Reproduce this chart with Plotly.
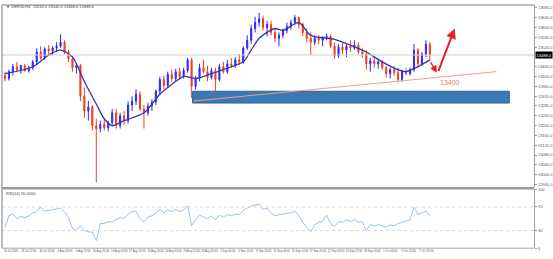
import plotly.graph_objects as go

# ---------------- data ----------------
symbol = "GER30,H4"

open_ = [13404,13392,13420,13440,13428,13444,13424,13436,13460,13500,
         13476,13512,13504,13516,13524,13540,13500,13472,13436,13444,
         13320,13260,13276,13200,13188,13204,13192,13212,13252,13200,
         13240,13220,13284,13300,13328,13268,13252,13280,13296,13340,
         13388,13364,13408,13392,13420,13400,13424,13468,13360,13392,
         13436,13420,13396,13424,13388,13440,13420,13452,13444,13468,
         13460,13516,13548,13596,13620,13636,13600,13612,13580,13556,
         13568,13588,13604,13620,13640,13612,13580,13556,13540,13556,
         13548,13560,13564,13524,13484,13520,13508,13524,13516,13528,
         13500,13492,13452,13464,13452,13460,13436,13412,13428,13416,
         13388,13420,13412,13428,13508,13452,13492,13532]
high = [13420,13428,13452,13460,13448,13452,13444,13468,13516,13524,
        13520,13528,13524,13540,13572,13548,13508,13480,13452,13452,
        13356,13300,13284,13228,13220,13228,13220,13268,13268,13252,
        13260,13300,13320,13348,13340,13284,13292,13308,13348,13400,
        13404,13420,13428,13432,13436,13436,13476,13476,13404,13452,
        13468,13444,13436,13436,13452,13460,13468,13476,13480,13492,
        13524,13568,13612,13644,13660,13648,13628,13628,13596,13580,
        13596,13620,13632,13652,13644,13620,13596,13580,13568,13568,
        13564,13576,13572,13540,13532,13540,13532,13548,13548,13540,
        13516,13508,13476,13480,13468,13468,13444,13436,13444,13436,
        13428,13436,13436,13532,13516,13500,13548,13540]
low = [13380,13384,13404,13420,13412,13420,13416,13428,13448,13468,
       13468,13492,13488,13500,13516,13492,13460,13420,13412,13300,
       13232,13220,13180,12968,13172,13180,13176,13196,13188,13188,
       13204,13208,13260,13284,13260,13188,13240,13260,13284,13328,
       13348,13356,13380,13380,13388,13392,13416,13312,13348,13380,
       13412,13380,13388,13340,13380,13412,13412,13436,13436,13448,
       13452,13508,13532,13580,13604,13588,13564,13568,13540,13524,
       13556,13576,13592,13612,13596,13564,13540,13488,13528,13532,
       13524,13548,13516,13472,13476,13492,13480,13500,13508,13492,
       13476,13428,13420,13436,13432,13428,13396,13392,13404,13380,
       13380,13404,13404,13420,13436,13444,13480,13468]
close = [13392,13420,13440,13428,13444,13424,13436,13460,13500,13476,
         13512,13504,13516,13524,13540,13500,13472,13436,13444,13320,
         13260,13276,13200,13188,13204,13192,13212,13252,13200,13240,
         13220,13284,13300,13328,13268,13252,13280,13296,13340,13388,
         13364,13408,13392,13420,13400,13424,13468,13360,13392,13436,
         13420,13396,13424,13388,13440,13420,13452,13444,13468,13460,
         13516,13548,13596,13620,13636,13600,13612,13580,13556,13568,
         13588,13604,13620,13640,13612,13580,13556,13540,13556,13548,
         13560,13564,13524,13484,13520,13508,13524,13516,13528,13500,
         13492,13452,13464,13452,13460,13436,13412,13428,13416,13388,
         13420,13412,13428,13508,13452,13492,13532,13488]

# moving average, read at selected bars
ma_idx = [0,7,11,14,17,18,20,23,25,27,30,35,39,42,45,48,52,57,60,62,
          64,66,68,70,74,77,83,87,91,95,99,101,104,107]
ma_val = [13412,13440,13488,13508,13480,13452,13380,13288,13228,13200,
          13220,13252,13328,13368,13400,13392,13412,13440,13460,13508,
          13556,13580,13596,13588,13620,13568,13552,13528,13500,13460,
          13428,13420,13440,13468]

rsi = [35,55,58,50,54,52,55,60,62,70,
       63,64,66,67,68,62,52,33,30,38,
       30,28,27,13,42,42,45,45,48,52,
       50,58,62,63,50,45,53,55,60,66,
       60,65,62,66,62,65,72,38,48,56,
       53,50,55,48,56,53,57,55,58,57,
       64,68,72,73,75,66,68,60,55,57,
       58,60,60,63,55,44,35,28,40,44,
       46,56,42,37,45,44,48,45,49,44,
       45,30,40,38,40,38,36,40,38,42,
       44,46,48,70,57,60,63,55]

price_ticks = [12960,13000,13040,13080,13120,13160,13200,13240,13280,13320,
               13360,13400,13440,13520,13560,13600,13640,13680]
rsi_ticks = [0,30,70,100]
date_tick_idx = [1.5,6,10.6,15.1,19.7,24.2,28.8,33.3,37.9,42.4,47,51.5,
                 56.1,60.6,65.2,69.7,74.3,78.8,83.4,87.9,92.5,97,101.6,106.1]
date_labels = ["24 Jul 2020","28 Jul 12:00","30 Jul 20:00","4 Aug 04:00","6 Aug 12:00",
               "10 Aug 20:00","13 Aug 04:00","17 Aug 12:00","19 Aug 20:00","24 Aug 04:00",
               "26 Aug 12:00","28 Aug 20:00","2 Sep 04:00","4 Sep 12:00","8 Sep 20:00",
               "11 Sep 04:00","15 Sep 12:00","17 Sep 20:00","22 Sep 04:00","24 Sep 12:00",
               "28 Sep 20:00","1 Oct 04:00","5 Oct 12:00","7 Oct 20:00"]

# analyst drawings (bar index, price)
zone_bars = [47.25, 127]
zone_prices = [13292, 13340]
trend_bars = [47.5, 123.75]
trend_prices = [13300, 13420]
down_arrow = [(107, 13464), (108.75, 13416)]
up_arrow = [(109, 13416), (113.25, 13596)]
support_text = "13400"
support_text_pos = (112.1, 13376)

# ---------------- layout helpers ----------------
W, H = 553, 259
def px(x):
    return x / W
def py(y):
    return 1 - y / H

UP = "#2c2cf5"
DN = "#f0401e"
RED = "#e5202a"
n = len(close)
bars = list(range(n))

fig = go.Figure()
fig.add_trace(go.Candlestick(
    x=bars, open=open_, high=high, low=low, close=close,
    increasing=dict(line=dict(color=UP, width=1), fillcolor=UP),
    decreasing=dict(line=dict(color=DN, width=1), fillcolor=DN),
    whiskerwidth=0, showlegend=False, hoverinfo="skip",
    xaxis="x", yaxis="y"))
fig.add_trace(go.Scatter(
    x=ma_idx, y=ma_val, mode="lines",
    line=dict(color="#3434b8", width=1.3, shape="spline", smoothing=0.8),
    showlegend=False, hoverinfo="skip", xaxis="x", yaxis="y"))
fig.add_trace(go.Scatter(
    x=bars, y=rsi, mode="lines",
    line=dict(color="#92b9ee", width=0.9),
    showlegend=False, hoverinfo="skip", xaxis="x2", yaxis="y2"))

xr = [-0.75, 133.25]
xdom = [px(2), px(538)]
axis_font = dict(family="Liberation Sans, Arial", size=4, color="#555555")

fig.update_layout(
    width=W, height=H, margin=dict(l=0, r=0, t=0, b=0),
    paper_bgcolor="white", plot_bgcolor="white",
    showlegend=False, boxgap=0.6,
    xaxis=dict(domain=xdom, range=xr, anchor="y", showticklabels=False,
               showgrid=False, zeroline=False, rangeslider=dict(visible=False),
               showline=False, ticks=""),
    yaxis=dict(domain=[py(188), py(2)], range=[12948, 13692], anchor="x",
               side="right", tickvals=price_ticks,
               ticktext=[f"{v:.1f}" for v in price_ticks],
               tickfont=axis_font, showgrid=False, zeroline=False,
               showline=True, linecolor="#9a9a9a", linewidth=1,
               ticks="outside", ticklen=2, tickcolor="#9a9a9a"),
    xaxis2=dict(domain=xdom, range=xr, anchor="y2", tickvals=date_tick_idx,
                ticktext=date_labels, tickangle=0,
                tickfont=dict(family="Liberation Sans, Arial", size=2.8, color="#555555"),
                showgrid=False, zeroline=False, showline=False, ticks=""),
    yaxis2=dict(domain=[py(250), py(190)], range=[0, 100], anchor="x2",
                side="right", tickvals=rsi_ticks,
                ticktext=[str(v) for v in rsi_ticks],
                tickfont=axis_font, showgrid=False, zeroline=False,
                showline=True, linecolor="#9a9a9a", linewidth=1,
                ticks="outside", ticklen=2, tickcolor="#9a9a9a"),
)

shapes = []
# RSI 30/70 levels
for lvl in (30, 70):
    shapes.append(dict(type="line", xref="paper", yref="y2", x0=xdom[0], x1=xdom[1],
                       y0=lvl, y1=lvl, line=dict(color="#d8d8d8", width=1, dash="dot")))
# current price line
shapes.append(dict(type="line", xref="paper", yref="y", x0=xdom[0], x1=xdom[1],
                   y0=close[-1], y1=close[-1], line=dict(color="#cfcfcf", width=1)))
# support zone
shapes.append(dict(type="rect", xref="x", yref="y", x0=zone_bars[0], x1=zone_bars[1],
                   y0=zone_prices[0], y1=zone_prices[1],
                   fillcolor="#3c79b2", line=dict(color="#2f6498", width=1)))
# trend line
shapes.append(dict(type="line", xref="x", yref="y", x0=trend_bars[0], x1=trend_bars[1],
                   y0=trend_prices[0], y1=trend_prices[1],
                   line=dict(color="#f29a92", width=1)))
# frame
frame = "#a8a8a8"
shapes.append(dict(type="line", xref="paper", yref="paper", x0=px(2), x1=px(538),
                   y0=py(2), y1=py(2), line=dict(color=frame, width=1.5)))
shapes.append(dict(type="line", xref="paper", yref="paper", x0=px(2), x1=px(2),
                   y0=py(2), y1=py(250), line=dict(color=frame, width=1.5)))
shapes.append(dict(type="line", xref="paper", yref="paper", x0=px(2), x1=px(538),
                   y0=py(189), y1=py(189), line=dict(color="#9a9a9a", width=2.5)))
shapes.append(dict(type="line", xref="paper", yref="paper", x0=px(2), x1=px(538),
                   y0=py(250), y1=py(250), line=dict(color=frame, width=1)))
fig.update_layout(shapes=shapes)

small = dict(family="Liberation Sans, Arial", size=4, color="#444444")
anns = [
    dict(xref="paper", yref="paper", x=px(4), y=py(4), xanchor="left", yanchor="middle",
         text=f"▼ {symbol}  {open_[-1]:.1f} {high[-1]:.1f} {low[-1]:.1f} {close[-1]:.1f}",
         showarrow=False, font=small),
    dict(xref="paper", yref="paper", x=px(4), y=py(194), xanchor="left", yanchor="middle",
         text=f"RSI(14) {rsi[-1]:.4f}", showarrow=False, font=small),
    dict(xref="paper", yref="y", x=px(539), y=close[-1], xanchor="left", yanchor="middle",
         text=f"{close[-1]:.1f}", showarrow=False, bgcolor="#000000", borderpad=0.5,
         font=dict(family="Liberation Sans, Arial", size=4, color="white")),
    dict(xref="x", yref="y", x=support_text_pos[0], y=support_text_pos[1],
         text=support_text, showarrow=False,
         font=dict(family="Liberation Sans, Arial", size=7, color="#ee7a6c")),
    dict(xref="x", yref="y", axref="x", ayref="y",
         x=down_arrow[1][0], y=down_arrow[1][1], ax=down_arrow[0][0], ay=down_arrow[0][1],
         text="", showarrow=True, arrowhead=2, arrowsize=1, arrowwidth=1.4, arrowcolor=RED),
    dict(xref="x", yref="y", axref="x", ayref="y",
         x=up_arrow[1][0], y=up_arrow[1][1], ax=up_arrow[0][0], ay=up_arrow[0][1],
         text="", showarrow=True, arrowhead=2, arrowsize=1, arrowwidth=2, arrowcolor=RED),
]
fig.update_layout(annotations=anns)

fig.write_html("out.html")
